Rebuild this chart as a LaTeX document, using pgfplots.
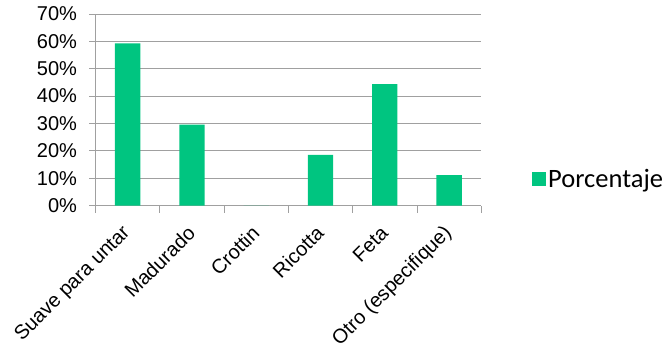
\documentclass[border=0pt]{standalone}
\usepackage{fontspec}
\setmainfont{Liberation Sans}
\newfontfamily\legendfont{Carlito}
\usepackage{pgfplots}
\pgfplotsset{compat=1.18}
\definecolor{barcolor}{RGB}{0,197,128}
\definecolor{gridgray}{RGB}{160,160,160}
\begin{document}
\begin{tikzpicture}
\path[use as bounding box] (-95.5pt,-150.5pt) rectangle (574.5pt,205.5pt);
\begin{axis}[
  at={(0pt,0pt)}, anchor=south west,
  scale only axis, width=385.8pt, height=191.5pt,
  xmin=-0.5, xmax=5.5, ymin=0, ymax=70,
  ybar, bar width=25.3pt,
  axis x line*=bottom, axis y line*=left,
  axis line style={draw=gridgray, line width=0.9pt, -},
  ymajorgrids, grid style={draw=gridgray, line width=0.9pt},
  xtick={0,...,5},
  xticklabels={Suave para untar, Madurado, Crottin, Ricotta, Feta, Otro (especifique)},
  minor xtick={-0.5,0.5,...,5.5},
  ytick={0,10,...,70},
  yticklabels={0\%,10\%,20\%,30\%,40\%,50\%,60\%,70\%},
  tick align=outside,
  major tick length=6pt, minor tick length=7pt,
  major x tick style={draw=none},
  tick style={draw=gridgray, line width=0.9pt},
  ticklabel style={font=\fontsize{20}{24}\selectfont},
  yticklabel style={xshift=-9pt},
  xticklabel style={xshift=2pt, yshift=-16pt, rotate=45, anchor=east},
  legend style={at={(1.1315,0.138)}, anchor=west, draw=none, fill=none,
    font=\legendfont\fontsize{26.5}{30}\selectfont, inner sep=0pt},
  legend image code/.code={\fill[barcolor] (-4pt,-7pt) rectangle (10pt,7pt);},
]
\addplot[fill=barcolor, draw=none] coordinates {(0,59.3) (1,29.6) (2,0) (3,18.5) (4,44.4) (5,11.1)};
\addlegendentry{Porcentaje}
\end{axis}
\end{tikzpicture}
\end{document}
